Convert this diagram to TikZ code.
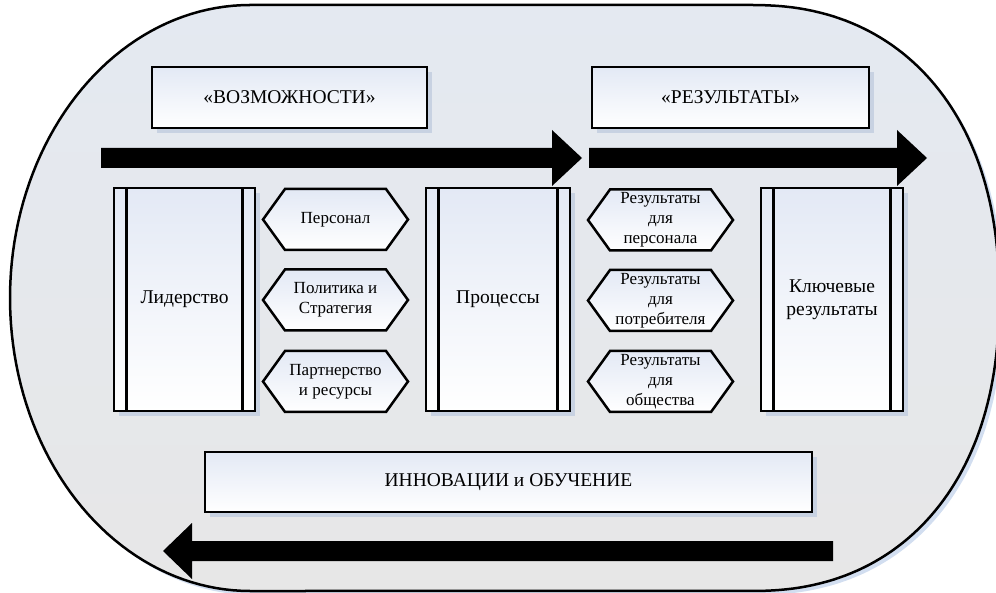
\documentclass[tikz,border=0pt]{standalone}
\usepackage{fontspec}
\setmainfont{Liberation Serif}
\newfontfamily\lserif{Liberation Serif}
\usetikzlibrary{shadows,calc}
\definecolor{outtop}{HTML}{E4E9F1}
\definecolor{outbot}{HTML}{E7E7E7}
\definecolor{outshadow}{HTML}{D2DEF0}
\definecolor{boxblue}{HTML}{E3E9F5}
\definecolor{shadowc}{HTML}{C8D2E2}
\pgfdeclarelayer{bg}
\pgfdeclarelayer{behind}
\pgfsetlayers{bg,behind,main}
\tikzset{
  bigtext/.style={font=\lserif\fontsize{19.5}{23}\selectfont},
  smalltext/.style={font=\lserif\fontsize{17}{20}\selectfont},
  boxfill/.style={top color=boxblue, bottom color=white},
  labelbox/.style={draw, line width=2.5pt, boxfill, rectangle, outer sep=0pt, inner sep=0pt,
    align=center, bigtext,
    drop shadow={shadow xshift=5pt, shadow yshift=-5pt, fill=shadowc, opacity=1}},
  procbox/.style={labelbox, minimum height=223pt},
  bar/.style={line width=2.5pt},
  hexlabel/.style={rectangle, inner sep=0pt, outer sep=0pt, minimum width=145pt,
    minimum height=61pt, align=center, smalltext},
  hexdraw/.style={draw, line width=2.5pt, boxfill, line join=miter},
  bigarrow/.style={fill=black},
  outline/.style={line width=2.5pt, top color=outtop, bottom color=outbot},
}
\newcommand\hexa[4]{%
  \node[hexlabel] (#1) at (#2,#3) {#4};
  \begin{pgfonlayer}{behind}
    \fill[shadowc, shift={(5,5)}] (#1.west) -- ([xshift=22pt]#1.north west) -- ([xshift=-22pt]#1.north east)
      -- (#1.east) -- ([xshift=-22pt]#1.south east) -- ([xshift=22pt]#1.south west) -- cycle;
    \path[hexdraw] (#1.west) -- ([xshift=22pt]#1.north west) -- ([xshift=-22pt]#1.north east)
      -- (#1.east) -- ([xshift=-22pt]#1.south east) -- ([xshift=22pt]#1.south west) -- cycle;
  \end{pgfonlayer}%
}
\newcommand\bars[1]{%
  \draw[bar] ([xshift=12.5pt]#1.north west) -- ([xshift=12.5pt]#1.south west);
  \draw[bar] ([xshift=-12.5pt]#1.north east) -- ([xshift=-12.5pt]#1.south east);
}
\begin{document}
\begin{tikzpicture}[x=1pt,y=-1pt]
\useasboundingbox (0,0) rectangle (996,593);
\begin{pgfonlayer}{bg}
  % outer shape shadow
  \fill[outshadow, shift={(4,4)}] (250,5) -- (750,5)
    -- plot[domain=0.2:89.8, samples=60, variable=\t] ({750+249*pow(sin(\t),0.889)},{298-293*pow(cos(\t),0.889)})
    -- plot[domain=0.2:89.8, samples=60, variable=\t] ({750+249*pow(cos(\t),0.889)},{298+293*pow(sin(\t),0.889)})
    -- (250,591)
    -- plot[domain=90:270, samples=90, variable=\t] ({250+240*cos(\t)},{298+293*sin(\t)}) -- cycle;
  % outer shape
  \draw[outline] (250,5) -- (750,5)
    -- plot[domain=0.2:89.8, samples=60, variable=\t] ({750+249*pow(sin(\t),0.889)},{298-293*pow(cos(\t),0.889)})
    -- plot[domain=0.2:89.8, samples=60, variable=\t] ({750+249*pow(cos(\t),0.889)},{298+293*pow(sin(\t),0.889)})
    -- (250,591)
    -- plot[domain=90:270, samples=90, variable=\t] ({250+240*cos(\t)},{298+293*sin(\t)}) -- cycle;
  % arrows
  \fill[bigarrow] (101,148) -- (552,148) -- (552,130) -- (582,158) -- (552,186) -- (552,168) -- (101,168) -- cycle;
  \fill[bigarrow] (589,148) -- (897,148) -- (897,130) -- (927,158) -- (897,186) -- (897,168) -- (589,168) -- cycle;
  \fill[bigarrow] (833,541) -- (192,541) -- (192,523) -- (163,551) -- (192,579) -- (192,561) -- (833,561) -- cycle;
\end{pgfonlayer}

% top label boxes
\node[labelbox, minimum width=275pt, minimum height=61pt] (voz) at (289.5,97.5) {«ВОЗМОЖНОСТИ»};
\node[labelbox, minimum width=277pt, minimum height=61pt] (rez) at (730.5,97.5) {«РЕЗУЛЬТАТЫ»};

% process boxes
\node[procbox, minimum width=141pt] (lid) at (184.5,299.5) {Лидерство};
\bars{lid}
\node[procbox, minimum width=144pt] (proc) at (498,299.5) {Процессы};
\bars{proc}
\node[procbox, minimum width=142pt] (key) at (832,299.5) {Ключевые\\результаты};
\bars{key}

% hexagons
\hexa{pers}{335.5}{219.5}{Персонал}
\hexa{pol}{335.5}{300}{Политика и\\Стратегия}
\hexa{part}{335.5}{381.5}{Партнерство\\и ресурсы}
\hexa{rp}{660.5}{220}{Результаты\\для\\персонала}
\hexa{rc}{660.5}{300.5}{Результаты\\для\\потребителя}
\hexa{rs}{660.5}{381.5}{Результаты\\для\\общества}

% bottom box
\node[labelbox, minimum width=607pt, minimum height=60pt] (inn) at (508.5,482) {ИННОВАЦИИ и ОБУЧЕНИЕ};
\end{tikzpicture}
\end{document}
